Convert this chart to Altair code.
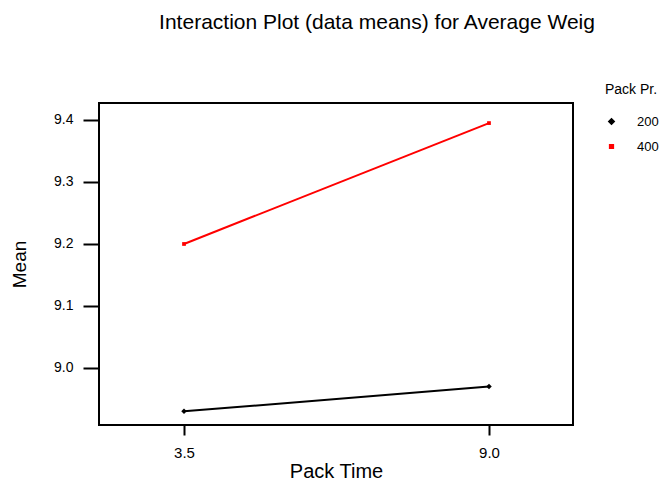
import altair as alt
import pandas as pd

pack_time = [3.5, 9.0, 3.5, 9.0]
pack_pr = ["200", "200", "400", "400"]
means = [8.930, 8.970, 9.200, 9.395]

df = pd.DataFrame({"time": pack_time, "pr": pack_pr, "mean": means})

FONT = "Liberation Sans"

x = alt.X("time:Q", title="Pack Time",
          scale=alt.Scale(domain=[1.967, 10.515], nice=False, zero=False),
          axis=alt.Axis(values=[3.5, 9.0], format=".1f", grid=False, domain=False,
                        tickSize=10, tickWidth=2, tickColor="black",
                        labelFontSize=15, labelPadding=10, labelColor="black",
                        titleFontSize=20, titleFontWeight="normal", titlePadding=1,
                        titleColor="black", labelFont=FONT, titleFont=FONT))
y = alt.Y("mean:Q", title="Mean",
          scale=alt.Scale(domain=[8.908, 9.4274], nice=False, zero=False),
          axis=alt.Axis(values=[9.0, 9.1, 9.2, 9.3, 9.4], format=".1f", grid=False,
                        domain=False, tickSize=16, tickWidth=2, tickColor="black",
                        labelFontSize=14, labelPadding=10, labelColor="black",
                        titleFontSize=19, titleFontWeight="normal", titlePadding=24,
                        titleColor="black", labelFont=FONT, titleFont=FONT))
color = alt.Color("pr:N", title="Pack Pr.",
                  scale=alt.Scale(domain=["200", "400"], range=["black", "red"]),
                  legend=alt.Legend(orient="none", legendX=506, legendY=-20,
                                    titleFontSize=14, titleFontWeight="normal",
                                    labelFontSize=13, titleFont=FONT, labelFont=FONT,
                                    titleColor="black", labelColor="black",
                                    rowPadding=11, labelOffset=19, titlePadding=18,
                                    symbolSize=30))
shape = alt.Shape("pr:N", title="Pack Pr.",
                  scale=alt.Scale(domain=["200", "400"], range=["diamond", "square"]))
size = alt.Size("pr:N", scale=alt.Scale(domain=["200", "400"], range=[30, 14]),
                legend=None)

base = alt.Chart(df)
lines = base.mark_line(strokeWidth=2).encode(x=x, y=y, color=color)
points = base.mark_point(filled=True, opacity=1).encode(
    x=x, y=y, color=color, shape=shape, size=size)

chart = alt.layer(lines, points).properties(
    width=474, height=322,
    background="white",
    title=alt.TitleParams("Interaction Plot (data means) for Average Weig",
                          fontSize=21, fontWeight="normal", font=FONT, color="black",
                          anchor="middle", dx=41, offset=50),
    autosize=alt.AutoSizeParams(type="none"),
    padding={"left": 91, "top": 95, "right": 86, "bottom": 58},
).configure_view(stroke="black", strokeWidth=2)

chart.save("out.html", embed_options={"renderer": "svg", "actions": False})
